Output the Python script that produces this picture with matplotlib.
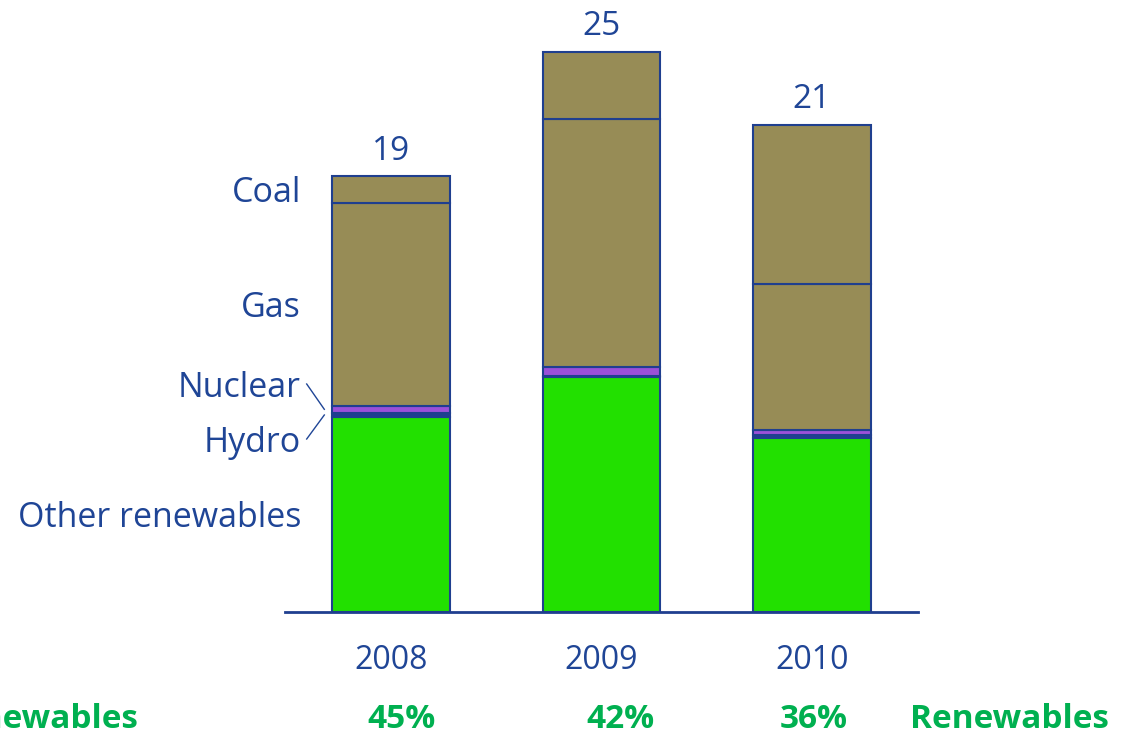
import matplotlib
matplotlib.use("Agg")
import matplotlib.pyplot as plt
import numpy as np

years = ["2008", "2009", "2010"]
other_renewables = [8.5, 10.2, 7.55]
hydro = [0.17, 0.06, 0.15]
nuclear = [0.30, 0.41, 0.22]
gas = [8.80, 10.78, 6.35]
coal = [1.17, 2.91, 6.91]
total_labels = ["19", "25", "21"]
renew_share = ["45%", "42%", "36%"]
series_names = ["Other renewables", "Hydro", "Nuclear", "Gas", "Coal"]

BLUE = "#1F4596"
EDGE = "#1F3F8F"
GREEN = "#22E000"
PURPLE = "#9B50D8"
OLIVE = "#978C56"
TEXTGREEN = "#00B050"

plt.rcParams['font.family'] = ['Open Sans', 'DejaVu Sans']

W, H = 1134, 736
fig = plt.figure(figsize=(W / 100, H / 100), dpi=100)
ax = fig.add_axes([285 / W, (H - 612) / H, 633 / W, 612 / H])

x = np.arange(len(years))
bw = 0.56
series = [other_renewables, hydro, nuclear, gas, coal]
colors = [GREEN, EDGE, PURPLE, OLIVE, OLIVE]
bottom = np.zeros(len(years))
for vals, c in zip(series, colors):
    ax.bar(x, vals, bw, bottom=bottom, color=c, edgecolor=EDGE, linewidth=1.5, zorder=2)
    bottom += np.array(vals)

for xi, tot, lab in zip(x, bottom, total_labels):
    ax.text(xi, tot + 0.38, lab, ha="center", va="bottom", fontsize=24, color=BLUE)

ax.set_xlim(-0.504, 2.504)
ax.set_ylim(0, 612 / 23)
for s in ["top", "right", "left"]:
    ax.spines[s].set_visible(False)
ax.spines["bottom"].set_color(EDGE)
ax.spines["bottom"].set_linewidth(2)
ax.set_yticks([])
ax.set_xticks(x)
ax.set_xticklabels(years, fontsize=23, color=BLUE)
ax.tick_params(axis="x", length=0, pad=23)

# Series labels on the left (figure pixel coordinates)
def fx(px):
    return px / W
def fy(py):
    return 1 - py / H

label_pos = {"Coal": 193, "Gas": 308, "Nuclear": 388, "Hydro": 443, "Other renewables": 518}
for name in series_names:
    fig.text(fx(301), fy(label_pos[name]), name, ha="right", va="center", fontsize=24.5, color=BLUE)

fig.add_artist(plt.Line2D([fx(306.7), fx(324.3)], [fy(384), fy(409.3)], color=BLUE, lw=1))
fig.add_artist(plt.Line2D([fx(324.3), fx(306.7)], [fy(415), fy(439)], color=BLUE, lw=1))

# Renewables share row
fs = 24
ry = 720
fig.text(fx(138), fy(ry), "Renewables", ha="right", va="center", fontsize=fs, color=TEXTGREEN, fontweight="bold")
for cx, s in zip([402, 620, 814], renew_share):
    fig.text(fx(cx), fy(ry), s, ha="center", va="center", fontsize=fs, color=TEXTGREEN, fontweight="bold")
fig.text(fx(910), fy(ry), "Renewables", ha="left", va="center", fontsize=fs, color=TEXTGREEN, fontweight="bold")

fig.savefig("out.png", dpi=100)
